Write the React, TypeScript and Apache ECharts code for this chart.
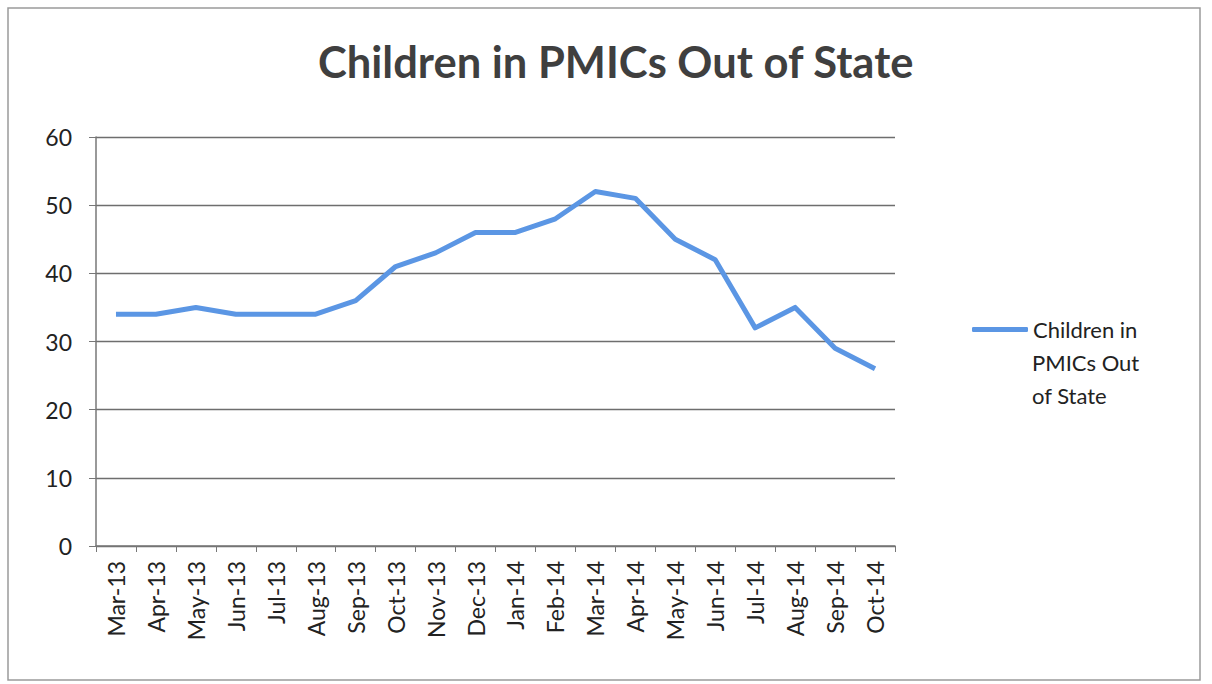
import React, { useEffect, useRef } from "react";
import * as echarts from "echarts";

const chartTitle = "Children in PMICs Out of State";
const seriesName = "Children in PMICs Out of State";
const legendFirstLine = "Children in";
const legendRestLines = "PMICs Out\nof State";
const categories = [
  "Mar-13", "Apr-13", "May-13", "Jun-13", "Jul-13", "Aug-13", "Sep-13", "Oct-13",
  "Nov-13", "Dec-13", "Jan-14", "Feb-14", "Mar-14", "Apr-14", "May-14", "Jun-14",
  "Jul-14", "Aug-14", "Sep-14", "Oct-14",
];
const values = [34, 34, 35, 34, 34, 34, 36, 41, 43, 46, 46, 48, 52, 51, 45, 42, 32, 35, 29, 26];
const yMin = 0;
const yMax = 60;
const yStep = 10;

export default function App() {
  const ref = useRef<HTMLDivElement>(null);
  useEffect(() => {
    document.body.style.margin = "0";
    const chart = echarts.init(ref.current!, null, { renderer: "svg" });
    chart.setOption({
      animation: false,
      backgroundColor: "#ffffff",
      title: {
        text: chartTitle,
        left: 313,
        top: 34,
        textStyle: {
          fontFamily: "Lato",
          fontSize: 43.5,
          fontWeight: "bold",
          color: "#3f3f3f",
        },
      },
      graphic: [
        {
          type: "rect",
          shape: { x: 8, y: 8, width: 1192, height: 672 },
          style: { fill: "none", stroke: "#9a9a9a", lineWidth: 1.5 },
          silent: true,
        },
        {
          type: "text",
          left: 1032,
          top: 346,
          style: {
            text: legendRestLines,
            fontFamily: "Lato",
            fontSize: 22,
            lineHeight: 33,
            fill: "#222",
          },
          silent: true,
        },
      ],
      legend: {
        show: true,
        left: 967,
        top: 308,
        orient: "vertical",
        icon: "roundRect",
        itemWidth: 56,
        itemHeight: 5,
        data: [seriesName],
        formatter: () => legendFirstLine,
        textStyle: {
          fontFamily: "Lato",
          fontSize: 22,
          color: "#222",
          lineHeight: 33,
        },
      },
      grid: { left: 96, right: 317, top: 137, bottom: 138 },
      xAxis: {
        type: "category",
        data: categories,
        boundaryGap: true,
        axisLine: { show: true, lineStyle: { color: "#777", width: 1.5 } },
        axisTick: { show: true, interval: 0, length: 6, lineStyle: { color: "#777" } },
        axisLabel: {
          interval: 0,
          rotate: 90,
          margin: 15,
          fontFamily: "Lato",
          fontSize: 23,
          color: "#222",
        },
        splitLine: { show: false },
      },
      yAxis: {
        type: "value",
        min: yMin,
        max: yMax,
        interval: yStep,
        axisLine: { show: true, lineStyle: { color: "#777", width: 1.5 } },
        axisTick: { show: true, length: 7, lineStyle: { color: "#777" } },
        axisLabel: {
          margin: 24,
          fontFamily: "Lato",
          fontSize: 23,
          color: "#222",
        },
        splitLine: { show: true, lineStyle: { color: "#6e6e6e", width: 1.3 } },
      },
      series: [
        {
          name: seriesName,
          type: "line",
          data: values,
          showSymbol: false,
          symbol: "none",
          lineStyle: { color: "#5b96e4", width: 5, join: "round" },
          itemStyle: { color: "#5b96e4" },
        },
      ],
    });
    return () => chart.dispose();
  }, []);
  return <div ref={ref} style={{ width: 1212, height: 684 }} />;
}
